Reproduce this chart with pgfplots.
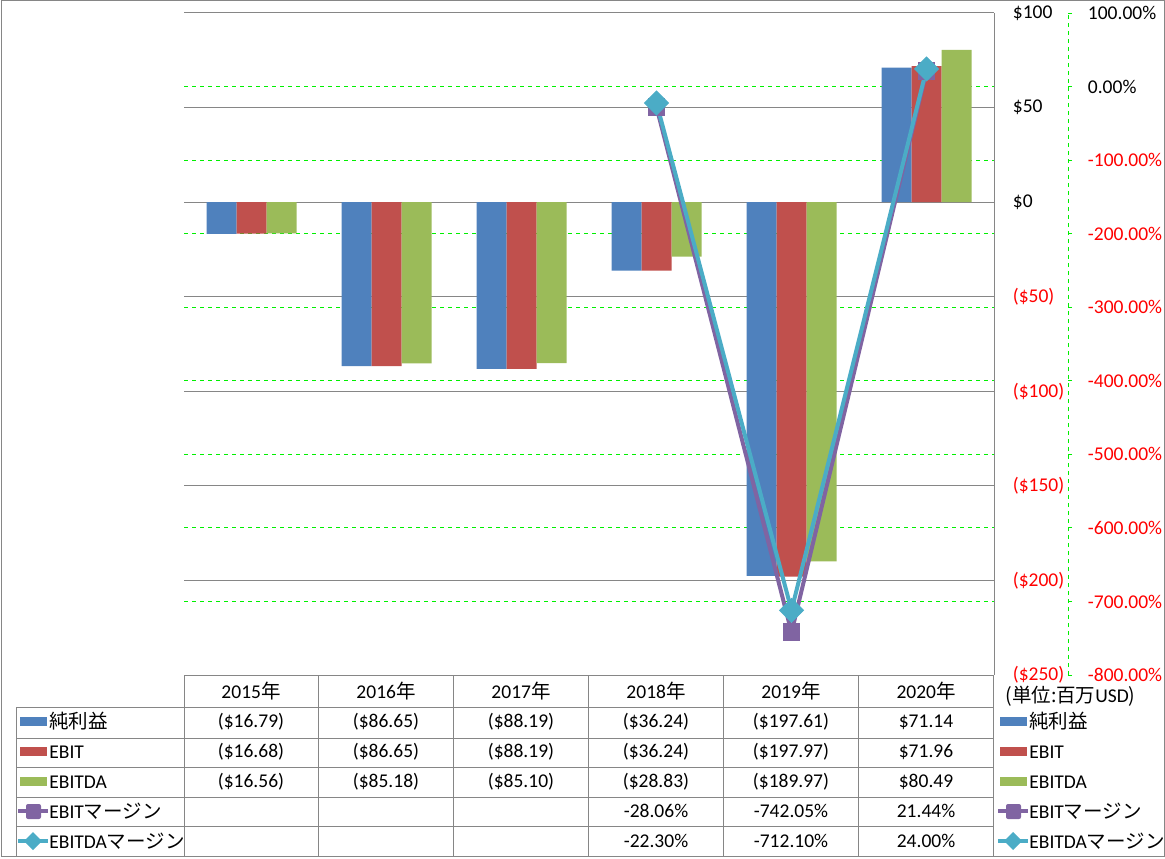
\documentclass[border=0pt]{standalone}
\usepackage{fontspec}
\setmainfont{Carlito}
\newfontfamily\jp{Noto Sans CJK JP}
\usepackage{pgfplots}
\pgfplotsset{compat=1.18}
\definecolor{cblue}{HTML}{4F81BD}
\definecolor{cred}{HTML}{C0504D}
\definecolor{cgreen}{HTML}{9BBB59}
\definecolor{cpurple}{HTML}{8064A2}
\definecolor{cteal}{HTML}{4BACC6}
\definecolor{gridgray}{HTML}{868686}
\definecolor{gridgreen}{HTML}{00F000}
\definecolor{negred}{HTML}{FF0000}

\begin{document}
\fontsize{9.75}{11}\selectfont
\begin{tikzpicture}
\useasboundingbox (0,0) rectangle (582.5pt,429pt);

% green dashed grid of the percent axis (behind the bars)
\begin{axis}[at={(92pt,91.5pt)}, anchor=south west, width=405pt, height=331pt, scale only axis,
  xmin=0.5, xmax=6.5, ymin=-800, ymax=100,
  axis line style={draw=none}, xtick=\empty,
  ytick={-700,-600,-500,-400,-300,-200,-100,0}, yticklabels={,,,,,,,},
  major tick length=0pt, ymajorgrids,
  grid style={gridgreen, dash pattern=on 2pt off 2pt, line width=0.5pt}]
\addplot[draw=none] coordinates {(1,0)};
\end{axis}

% dollar axis with the bars
\begin{axis}[at={(92pt,91.5pt)}, anchor=south west, width=405pt, height=331pt, scale only axis,
  xmin=0.5, xmax=6.5, ymin=-250, ymax=100,
  axis x line=none, axis y line*=right,
  y axis line style={gridgray, line width=0.5pt},
  ytick={-250,-200,-150,-100,-50,0,50,100},
  yticklabels={{\color{negred}(\$250)},{\color{negred}(\$200)},{\color{negred}(\$150)},
    {\color{negred}(\$100)},{\color{negred}(\$50)},{\$0},{\$50},{\$100}},
  yticklabel style={anchor=west, xshift=6pt},
  major tick length=0pt, ymajorgrids,
  grid style={gridgray, line width=0.5pt},
  ybar, bar width=15pt]
\addplot[fill=cblue, draw=none, bar shift=-15pt] coordinates
  {(1,-16.79)(2,-86.65)(3,-88.19)(4,-36.24)(5,-197.61)(6,71.14)};
\addplot[fill=cred, draw=none, bar shift=0pt] coordinates
  {(1,-16.68)(2,-86.65)(3,-88.19)(4,-36.24)(5,-197.97)(6,71.96)};
\addplot[fill=cgreen, draw=none, bar shift=15pt] coordinates
  {(1,-16.56)(2,-85.18)(3,-85.10)(4,-28.83)(5,-189.97)(6,80.49)};
\end{axis}

% percent axis with the margin lines
\begin{axis}[at={(92pt,91.5pt)}, anchor=south west, width=442pt, height=331pt, scale only axis,
  xmin=0.5, xmax=7.048, ymin=-800, ymax=100, clip=false,
  axis x line=none, axis y line*=right,
  y axis line style={gridgreen, dash pattern=on 2pt off 2pt, line width=0.5pt},
  ytick={-800,-700,-600,-500,-400,-300,-200,-100,0,100},
  yticklabels={{\color{negred}-800.00\%},{\color{negred}-700.00\%},{\color{negred}-600.00\%},
    {\color{negred}-500.00\%},{\color{negred}-400.00\%},{\color{negred}-300.00\%},
    {\color{negred}-200.00\%},{\color{negred}-100.00\%},{0.00\%},{100.00\%}},
  yticklabel style={anchor=west, xshift=4.5pt},
  tick align=outside, major tick length=2pt,
  ytick style={gridgreen, solid, line width=0.5pt}]
\addplot[color=cpurple, line width=2pt, mark=square*, mark size=4.2pt,
  mark options={solid, line width=0.5pt, fill=cpurple}] coordinates
  {(4,-28.06)(5,-742.05)(6,21.44)};
\addplot[color=cteal, line width=2pt, mark=square*, mark size=4.2pt,
  mark options={solid, line width=0.5pt, fill=cteal, rotate=45}] coordinates
  {(4,-22.30)(5,-712.10)(6,24.00)};
\end{axis}

% data table under the plot, in pixel units
\begin{scope}[x=0.5pt, y=-0.5pt, yshift=429pt]
  \draw[gridgray, line width=0.5pt] (1,1) rectangle (1164,856);
  \draw[gridgray, line width=0.5pt] (184,675) -- (993,675);
  \foreach \y in {707,738,767,797,826}
    \draw[gridgray, line width=0.5pt] (16,\y) -- (993,\y);
  \draw[gridgray, line width=0.5pt] (16,707) -- (16,856);
  \foreach \x in {184,318,453,588,723,858,993}
    \draw[gridgray, line width=0.5pt] (\x,675) -- (\x,856);

  % years
  \foreach \x/\yr in {251/2015,386/2016,521/2017,656/2018,791/2019,926/2020}
    \node at (\x,691) {\yr{\jp 年}};

  % values
  \foreach \x/\a/\b/\c in {251/(\$16.79)/(\$16.68)/(\$16.56),
      386/(\$86.65)/(\$86.65)/(\$85.18),
      521/(\$88.19)/(\$88.19)/(\$85.10),
      656/(\$36.24)/(\$36.24)/(\$28.83),
      791/(\$197.61)/(\$197.97)/(\$189.97),
      926/\$71.14/\$71.96/\$80.49} {
    \node at (\x,722) {\a};
    \node at (\x,752) {\b};
    \node at (\x,782) {\c};
  }
  \foreach \x/\a/\b in {656/-28.06\%/-22.30\%, 791/-742.05\%/-712.10\%, 926/21.44\%/24.00\%} {
    \node at (\x,811) {\a};
    \node at (\x,841) {\b};
  }

  % legend keys, left in the table and right beside it
  \foreach \kx/\tx in {20/49, 1000/1029} {
    \fill[cblue] (\kx,717) rectangle ++(27,9);
    \fill[cred] (\kx,747) rectangle ++(27,9);
    \fill[cgreen] (\kx,777) rectangle ++(27,9);
    \draw[cpurple, line width=2pt] (\kx-2,811) -- ++(30,0);
    \fill[cpurple, rounded corners=1pt] (\kx+6,804) rectangle ++(15,15);
    \draw[cteal, line width=2pt] (\kx-2,841) -- ++(30,0);
    \fill[cteal] (\kx+13,832) -- (\kx+22,841) -- (\kx+13,850) -- (\kx+4,841) -- cycle;
    \node[anchor=west, inner sep=0pt] at (\tx,721) {\jp 純利益};
    \node[anchor=west, inner sep=0pt] at (\tx,752) {EBIT};
    \node[anchor=west, inner sep=0pt] at (\tx,782) {EBITDA};
    \node[anchor=west, inner sep=0pt] at (\tx,811) {EBIT{\jp マージン}};
    \node[anchor=west, inner sep=0pt] at (\tx,841) {EBITDA{\jp マージン}};
  }
  \node[anchor=west, inner sep=0pt] at (1005,696) {{\jp (単位:百万}USD{\jp )}};
\end{scope}
\end{tikzpicture}
\end{document}
